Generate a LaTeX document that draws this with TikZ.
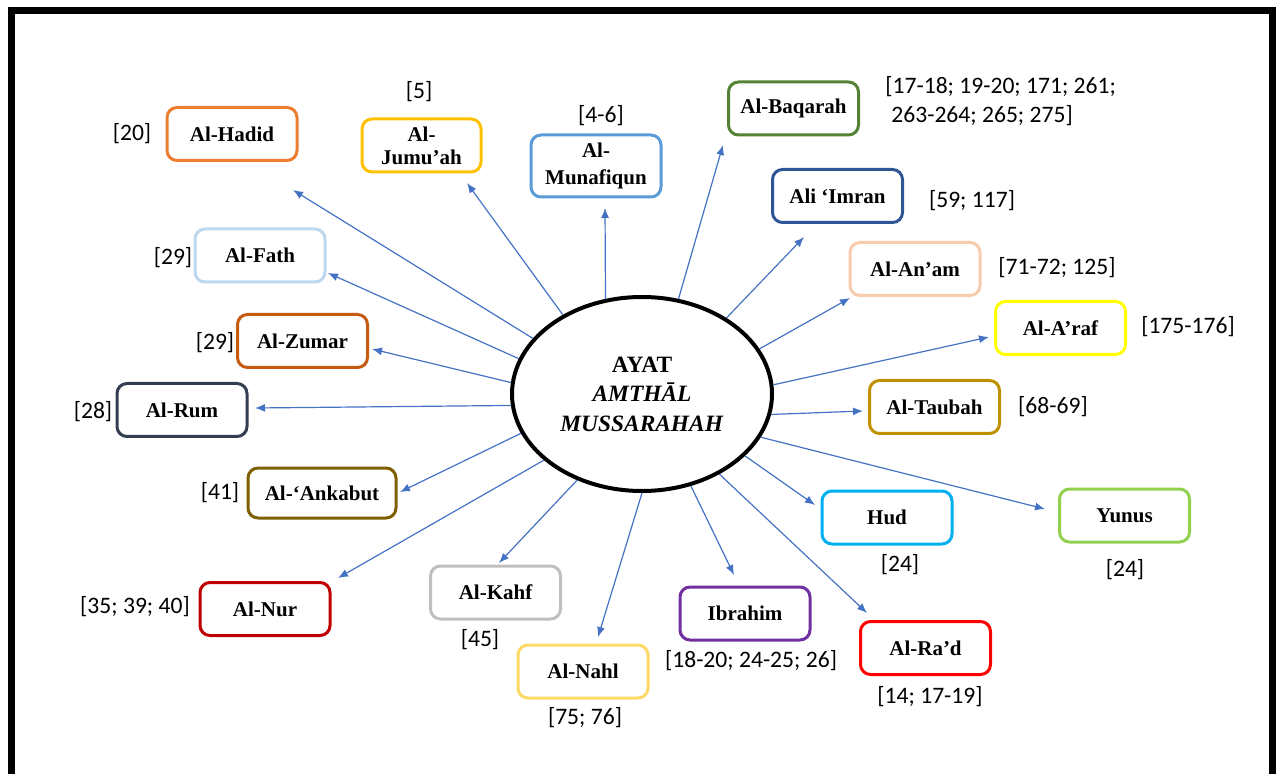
\documentclass[tikz,border=0pt]{standalone}
\usepackage{fontspec}
\setmainfont{Liberation Serif}
\newfontfamily\calibri{Carlito}
\usetikzlibrary{shapes.geometric, arrows.meta}

\definecolor{linkblue}{HTML}{4472C4}
\definecolor{cHadid}{HTML}{ED7D31}
\definecolor{cJumuah}{HTML}{FFC000}
\definecolor{cMunafiqun}{HTML}{5B9BD5}
\definecolor{cBaqarah}{HTML}{548235}
\definecolor{cImran}{HTML}{2F5597}
\definecolor{cAnam}{HTML}{F8CBAD}
\definecolor{cAraf}{HTML}{FFFF00}
\definecolor{cTaubah}{HTML}{BF9000}
\definecolor{cYunus}{HTML}{92D050}
\definecolor{cHud}{HTML}{00B0F0}
\definecolor{cRad}{HTML}{FF0000}
\definecolor{cIbrahim}{HTML}{7030A0}
\definecolor{cNahl}{HTML}{FFD966}
\definecolor{cKahf}{HTML}{BFBFBF}
\definecolor{cNur}{HTML}{C00000}
\definecolor{cAnkabut}{HTML}{7F6000}
\definecolor{cRum}{HTML}{333F50}
\definecolor{cZumar}{HTML}{C55A11}
\definecolor{cFath}{HTML}{BDD7EE}

\tikzset{
  sura/.style={draw, rounded corners=5pt, line width=1.5pt, minimum width=65pt, minimum height=26.5pt, inner sep=2pt, align=center, font=\fontsize{10.5}{13}\selectfont\bfseries},
  verse/.style={inner sep=0pt, font=\calibri\fontsize{11.8}{14.5}\selectfont},
  link/.style={linkblue, line width=0.6pt, -{Latex[length=5pt, width=4pt]}}
}

\begin{document}
\begin{tikzpicture}[x=0.5pt, y=-0.5pt]
\useasboundingbox (0,0) rectangle (1283,774);
\draw [line width=3.5pt] (11.5,10.5) rectangle (1272.5,777);

\node [ellipse, draw, line width=2pt, minimum width=130pt, minimum height=97pt, inner sep=0pt, align=center, font=\fontsize{11.7}{14.7}\selectfont\bfseries] (c) at (642,394) {AYAT\\\textit{AMTHĀL}\\\textit{MUSSARAHAH}};

% surah boxes
\node [sura, cHadid] (hadid) at (232,134) {\color{black}Al-Hadid};
\node [sura, cJumuah, minimum width=59.5pt, font=\fontsize{10.5}{11.5}\selectfont\bfseries] (jumuah) at (421.5,145.5) {\color{black}Al-\\\color{black}Jumu’ah};
\node [sura, cMunafiqun, minimum height=31pt, font=\fontsize{10.5}{13.8}\selectfont\bfseries] (munafiqun) at (596,166) {\color{black}Al-\\\color{black}Munafiqun};
\node [sura, cBaqarah] (baqarah) at (793.5,108.5) {\color{black}Al-Baqarah};
\node [sura, cImran] (imran) at (837.5,196) {\color{black}Ali ‘Imran};
\node [sura, cAnam] (anam) at (915,269) {\color{black}Al-An’am};
\node [sura, cAraf] (araf) at (1060.5,328) {\color{black}Al-A’raf};
\node [sura, cTaubah] (taubah) at (934.5,407) {\color{black}Al-Taubah};
\node [sura, cYunus] (yunus) at (1124.5,515.5) {\color{black}Yunus};
\node [sura, cHud] (hud) at (887,517.5) {\color{black}Hud};
\node [sura, cRad] (rad) at (925.5,648) {\color{black}Al-Ra’d};
\node [sura, cIbrahim] (ibrahim) at (745,613.5) {\color{black}Ibrahim};
\node [sura, cNahl] (nahl) at (583,671.5) {\color{black}Al-Nahl};
\node [sura, cKahf] (kahf) at (495.5,592.5) {\color{black}Al-Kahf};
\node [sura, cNur] (nur) at (265,609) {\color{black}Al-Nur};
\node [sura, cAnkabut, minimum width=74pt, minimum height=25pt] (ankabut) at (322,493) {\color{black}Al-‘Ankabut};
\node [sura, cRum] (rum) at (182,410) {\color{black}Al-Rum};
\node [sura, cZumar] (zumar) at (302.5,341) {\color{black}Al-Zumar};
\node [sura, cFath] (fath) at (260,255.5) {\color{black}Al-Fath};

% verse numbers
\node [verse] (vHadid) at (132,134) {[20]};
\node [verse] (vJumuah) at (419,92) {[5]};
\node [verse] (vMunafiqun) at (601,116) {[4-6]};
\node [verse, align=left, anchor=west] (vBaqarah) at (885,101.5) {[17-18; 19-20; 171; 261;\\\hspace{3pt}263-264; 265; 275]};
\node [verse] (vImran) at (972,201) {[59; 117]};
\node [verse] (vAnam) at (1057,268) {[71-72; 125]};
\node [verse] (vAraf) at (1188,327) {[175-176]};
\node [verse] (vTaubah) at (1053,407) {[68-69]};
\node [verse] (vYunus) at (1125,570) {[24]};
\node [verse] (vHud) at (900,565) {[24]};
\node [verse] (vRad) at (930,697) {[14; 17-19]};
\node [verse] (vIbrahim) at (751,661) {[18-20; 24-25; 26]};
\node [verse] (vNahl) at (585,718) {[75; 76]};
\node [verse] (vKahf) at (480,640) {[45]};
\node [verse] (vNur) at (135,607) {[35; 39; 40]};
\node [verse] (vAnkabut) at (220,493) {[41]};
\node [verse] (vRum) at (93,412) {[28]};
\node [verse] (vZumar) at (215,343) {[29]};
\node [verse] (vFath) at (173,258) {[29]};

% arrow tips
\coordinate (tHadid) at (293,190);
\coordinate (tJumuah) at (467,183);
\coordinate (tMunafiqun) at (605,208);
\coordinate (tBaqarah) at (723,145);
\coordinate (tImran) at (804,237);
\coordinate (tAnam) at (850,298);
\coordinate (tAraf) at (989,337);
\coordinate (tTaubah) at (863,411);
\coordinate (tYunus) at (1045,509);
\coordinate (tHud) at (815,505);
\coordinate (tRad) at (867,613);
\coordinate (tIbrahim) at (734,575);
\coordinate (tNahl) at (598,637);
\coordinate (tKahf) at (499,563);
\coordinate (tNur) at (338,578);
\coordinate (tAnkabut) at (400,492);
\coordinate (tRum) at (255,408);
\coordinate (tZumar) at (372,349);
\coordinate (tFath) at (328,273);

\foreach \a/\t in {153.6/tHadid, 135.4/tJumuah, 111.9/tMunafiqun, 69.6/tBaqarah, 42.9/tImran, 21.8/tAnam, 4.0/tAraf, 351.6/tTaubah, 340.8/tYunus, 329.4/tHud, 314.3/tRad, 298.3/tIbrahim, 270.6/tNahl, 233.6/tKahf, 214.7/tNur, 198.9/tAnkabut, 185.3/tRum, 175.5/tZumar, 164.4/tFath}{\draw [link] (c.\a) -- (\t);}
\end{tikzpicture}
\end{document}
